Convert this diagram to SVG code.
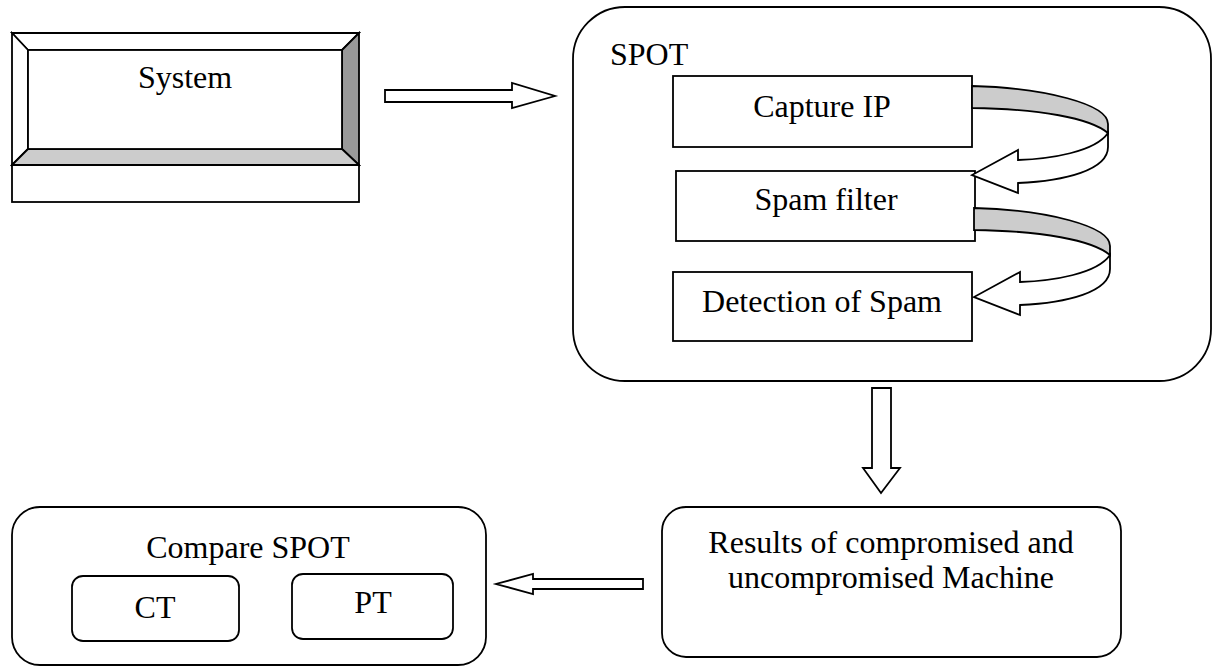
<svg xmlns="http://www.w3.org/2000/svg" width="1212" height="667" viewBox="0 0 1212 667">
<style>
.s{stroke:#000;stroke-width:1.8;stroke-linejoin:miter}
.w{fill:#fff}
.t{font-family:"Liberation Serif","Times New Roman",serif;font-size:32px;fill:#000}
.c{text-anchor:middle}
</style>
<rect width="1212" height="667" fill="#fff"/>
<g id="system">
  <rect class="s w" x="12" y="165" width="347" height="37"/>
  <polygon class="s w" points="12,33 359,33 342,50 28,50"/>
  <polygon class="s w" points="12,33 28,50 28,149 12,165"/>
  <polygon class="s" fill="#999" points="359,33 359,165 342,149 342,50"/>
  <polygon class="s" fill="#ccc" points="12,165 28,149 342,149 359,165"/>
  <rect class="s w" x="28" y="50" width="314" height="99"/>
  <text class="t c" x="185" y="88">System</text>
</g>
<g id="spot">
  <rect class="s w" x="573" y="7" width="638" height="374" rx="52" ry="52"/>
  <text class="t" x="610" y="65">SPOT</text>
</g>
<g id="capture">
  <rect class="s w" x="673" y="76" width="299" height="71"/>
  <text class="t c" x="822" y="117">Capture IP</text>
</g>
<g id="spamfilter">
  <rect class="s w" x="676" y="171" width="299" height="70"/>
  <text class="t c" x="826" y="210">Spam filter</text>
</g>
<g id="detection">
  <rect class="s w" x="673" y="272" width="299" height="69"/>
  <text class="t c" x="822" y="312">Detection of Spam</text>
</g>
<g id="results">
  <rect class="s w" x="662" y="507" width="459" height="150" rx="24" ry="24"/>
  <text class="t c" x="891" y="553">Results of compromised and</text>
  <text class="t c" x="891" y="588">uncompromised Machine</text>
</g>
<g id="compare">
  <rect class="s w" x="12" y="507" width="474" height="158" rx="28" ry="28"/>
  <text class="t c" x="248" y="558">Compare SPOT</text>
</g>
<g id="ct">
  <rect class="s w" x="72" y="576" width="167" height="65" rx="11" ry="11"/>
  <text class="t c" x="155" y="618">CT</text>
</g>
<g id="pt">
  <rect class="s w" x="292" y="574" width="161" height="65" rx="11" ry="11"/>
  <text class="t c" x="373" y="613">PT</text>
</g>
<g id="connectors">
  <polygon class="s w" points="385,90 512,90 512,83 555,96 512,108 512,102 385,102"/>
  <polygon class="s w" points="872,388 891,388 891,468 900,468 881,493 863,468 872,468"/>
  <polygon class="s w" points="643,579 533,579 533,574 496,584 533,594 533,589 643,589"/>
  <g id="curve1">
    <path class="s w" d="M1108,133 C1095,152 1050,159 1018,160 L1018,150 L972,175 L1018,193 L1018,183 C1065,181 1108,170 1108,147 Z"/>
    <path class="s" fill="#ccc" d="M972,86 C1045,88 1108,104 1108,124 L1108,133 C1090,118 1040,109 972,108 Z"/>
  </g>
  <g id="curve2" transform="translate(2,122)">
    <path class="s w" d="M1108,133 C1095,152 1050,159 1018,160 L1018,150 L972,175 L1018,193 L1018,183 C1065,181 1108,170 1108,147 Z"/>
    <path class="s" fill="#ccc" d="M972,86 C1045,88 1108,104 1108,124 L1108,133 C1090,118 1040,109 972,108 Z"/>
  </g>
</g>
</svg>
